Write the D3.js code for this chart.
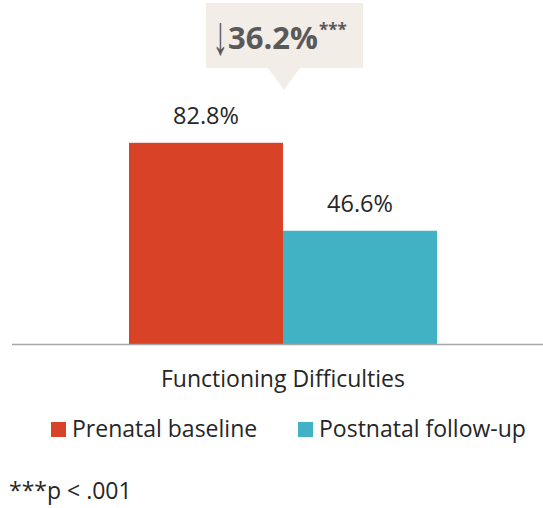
<!DOCTYPE html>
<html><head><meta charset="utf-8">
<script src="https://cdn.jsdelivr.net/npm/d3@7"></script>
<style>body{margin:0;background:#fff}svg{display:block}text{font-family:"Open Sans",sans-serif}</style>
</head><body><svg id="c" width="543" height="508"></svg>
<script>
const categories = ["Functioning Difficulties"];
const series = ["Prenatal baseline", "Postnatal follow-up"];
const values = [82.8, 46.6];
const colors = ["#d84226", "#41b2c3"];
const changeLabel = "36.2%";
const sigLabel = "***";
const footnote = "***p < .001";

const svg = d3.select("#c");
const x0 = d3.scaleBand().domain(categories).range([129, 437]).padding(0);
const x1 = d3.scaleBand().domain(series).range([0, x0.bandwidth()]).padding(0);
const y = d3.scaleLinear().domain([0, 100]).range([344, 101]);

const g = svg.append("g");
categories.forEach(cat => {
  series.forEach((s, i) => {
    const xx = x0(cat) + x1(s);
    g.append("rect").attr("x", xx).attr("y", y(values[i]))
      .attr("width", x1.bandwidth()).attr("height", y(0) - y(values[i]))
      .attr("fill", colors[i]);
    g.append("text").attr("x", xx + x1.bandwidth() / 2).attr("y", y(values[i]) - 19)
      .attr("text-anchor", "middle").attr("font-size", 23.5).attr("fill", "#262626")
      .text(d3.format(".1f")(values[i]) + "%");
  });
});

// baseline
svg.append("line").attr("x1", 12).attr("x2", 543).attr("y1", 344.5).attr("y2", 344.5)
  .attr("stroke", "#a6a6a6").attr("stroke-width", 1.5);

// category label
svg.append("text").attr("x", 283).attr("y", 387).attr("text-anchor", "middle")
  .attr("font-size", 23).attr("fill", "#262626").text(categories[0]);

// legend
const leg = [{x: 51, tx: 72}, {x: 298, tx: 319}];
series.forEach((s, i) => {
  svg.append("rect").attr("x", leg[i].x).attr("y", 422).attr("width", 15).attr("height", 15).attr("fill", colors[i]);
  svg.append("text").attr("x", leg[i].tx).attr("y", 437).attr("font-size", 23).attr("fill", "#262626").text(s);
});

// footnote
svg.append("text").attr("x", 9).attr("y", 499).attr("font-size", 23).attr("fill", "#262626").text(footnote);

// callout
const cx = 284;
svg.append("path").attr("d", `M206,3H363V68H300L${cx},90L268,68H206Z`).attr("fill", "#f3ede8");
svg.append("text").attr("transform", "translate(220.5,54) scale(1.05,1.85)").attr("text-anchor", "middle")
  .attr("font-size", 30).attr("font-family", "DejaVu Sans").attr("fill", "#595959").text("\u2193");
const t = svg.append("text").attr("x", 228).attr("y", 49).attr("fill", "#595959");
t.append("tspan").attr("font-size", 31).attr("font-weight", "bold").text(changeLabel);
t.append("tspan").attr("font-size", 17).attr("font-weight", "bold").attr("dx", 1).attr("dy", -13).text(sigLabel);
</script></body></html>
